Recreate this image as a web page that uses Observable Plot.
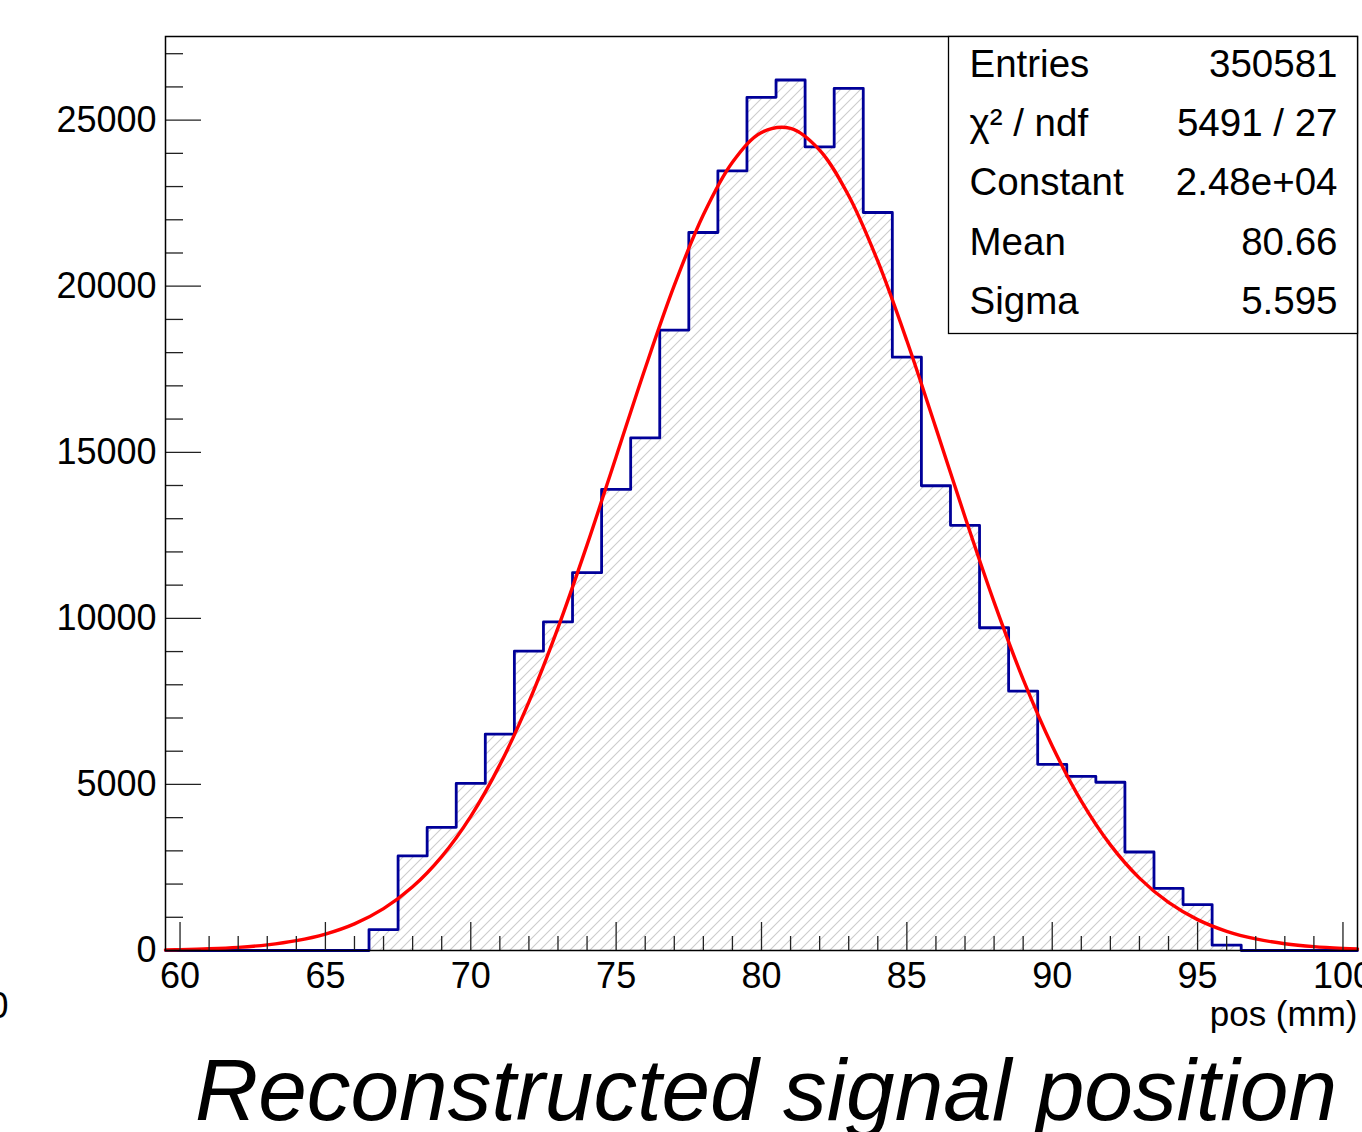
<!DOCTYPE html>
<html><head><meta charset="utf-8">
<script src="https://cdn.jsdelivr.net/npm/d3@7"></script>
<script src="https://cdn.jsdelivr.net/npm/@observablehq/plot@0.6"></script>
<style>
html,body{margin:0;padding:0;background:#fff;overflow:hidden;}
#wrap{position:relative;width:1362px;height:1132px;overflow:hidden;background:#fff;}
#chart{position:absolute;left:0;top:0;}
#title{position:absolute;left:195px;top:1046px;font-family:"Liberation Sans Narrow","Liberation Sans",sans-serif;font-style:italic;font-size:88px;line-height:88px;white-space:nowrap;transform-origin:0 0;color:#000;}
</style></head>
<body><div id="wrap"><div id="chart"></div><div id="title">Reconstructed signal position</div></div>
<script>
// Histogram bins (centres, mm) and counts
const binCenters = [60,61,62,63,64,65,66,67,68,69,70,71,72,73,74,75,76,77,78,79,80,81,82,83,84,85,86,87,88,89,90,91,92,93,94,95,96,97,98,99,100];
const counts = [0,0,0,0,0,0,0,631,2847,3708,5031,6515,9011,9892,11374,13881,15433,18680,21617,23473,25686,26208,24194,25957,22219,17864,13993,12802,9717,7811,5604,5244,5066,2965,1873,1383,160,0,0,0,0];
const binWidth = 1;

const fitX = [59.5,60,61,62,63,64,65,66,67,68,69,70,71,72,73,74,75,76,77,78,79,80,81,82,83,84,85,86,87,88,89,90,91,92,93,94,95,96,97,98,99,100,100.5];
const fitY = [19,27,52,95,170,295,494,801,1259,1917,2827,4040,5588,7485,9714,12211,14868,17531,20024,22149,23731,24628,24754,24099,22723,20753,18357,15728,13052,10488,8164,6158,4497,3180,2179,1446,929,578,348,204,115,63,46];

// Axes
const xDomain = [59.5, 100.5];
const yDomain = [0, 27518];
const yMajorTicks = [0,5000,10000,15000,20000,25000];
const yMinorTicks = [1000,2000,3000,4000,6000,7000,8000,9000,11000,12000,13000,14000,16000,17000,18000,19000,21000,22000,23000,24000,26000,27000];
const xMajorTicks = [60,65,70,75,80,85,90,95,100];
const xMinorTicks = [61,62,63,64,66,67,68,69,71,72,73,74,76,77,78,79,81,82,83,84,86,87,88,89,91,92,93,94,96,97,98,99];
const xLabel = "pos (mm)";

// Stats box
const statsLabels = ["Entries","χ² / ndf","Constant","Mean","Sigma"];
const statsValues = ["350581","5491 / 27","2.48e+04","80.66","5.595"];

const histRows = binCenters.map((c,i)=>({x:c-binWidth/2, y:counts[i]}));
histRows.push({x:binCenters[binCenters.length-1]+binWidth/2, y:counts[counts.length-1]});
const fitRows = fitX.map((x,i)=>({x, y:fitY[i]}));

const W=1362, H=1040, mL=165, mR=5, mT=36, mB=90;
const fw = W-mL-mR, fh = H-mT-mB;
const statsFS = 38.5, rowH = 59.4;

const plot = Plot.plot({
  width:W, height:H,
  marginLeft:mL, marginRight:mR, marginTop:mT, marginBottom:mB,
  style:{fontFamily:'"Liberation Sans", Arial, sans-serif', fontSize:"36px", color:"#000", background:"#fff"},
  x:{domain:xDomain},
  y:{domain:yDomain},
  marks:[
    Plot.areaY(histRows,{x:"x", y:"y", curve:"step-after", fill:"url(#hatch)"}),
    Plot.lineY(histRows,{x:"x", y:"y", curve:"step-after", stroke:"#000099", strokeWidth:2.8}),
    Plot.line(fitRows,{x:"x", y:"y", curve:"catmull-rom", stroke:"#ff0000", strokeWidth:3.4}),
    Plot.tickY(yMajorTicks,{y:d=>d, insetRight:fw-36, stroke:"#222", strokeWidth:1.3}),
    Plot.tickY(yMinorTicks,{y:d=>d, insetRight:fw-18, stroke:"#222", strokeWidth:1.3}),
    Plot.tickX(xMajorTicks,{x:d=>d, insetTop:fh-28, stroke:"#222", strokeWidth:1.3}),
    Plot.tickX(xMinorTicks,{x:d=>d, insetTop:fh-14, stroke:"#222", strokeWidth:1.3}),
    Plot.axisY({ticks:yMajorTicks, tickSize:0, tickPadding:9, tickFormat:d=>String(d), label:null, fontSize:36}),
    Plot.axisX({ticks:xMajorTicks, tickSize:0, tickPadding:12, tickFormat:d=>String(d), label:null, fontSize:36}),
    Plot.frame({stroke:"#000", strokeWidth:1.5}),
    Plot.frame({insetLeft:948-mL, insetBottom:(H-mB)-333, fill:"#fff", stroke:"#000", strokeWidth:1.3}),
    Plot.text([statsLabels.join("\n")],{text:d=>d, frameAnchor:"top-right", textAnchor:"start", lineAnchor:"top", dx:969-(W-mR), dy:-2, lineHeight:rowH/statsFS, fontSize:statsFS}),
    Plot.text([statsValues.join("\n")],{text:d=>d, frameAnchor:"top-right", textAnchor:"end", lineAnchor:"top", dx:1337-(W-mR), dy:-2, lineHeight:rowH/statsFS, fontSize:statsFS}),
    Plot.text([xLabel],{text:d=>d, frameAnchor:"bottom-right", textAnchor:"end", lineAnchor:"bottom", dy:75, fontSize:35}),
    Plot.text(["0"],{text:d=>d, frameAnchor:"bottom-left", textAnchor:"middle", lineAnchor:"middle", dx:-167, dy:56, fontSize:36})
  ]
});

const ns = "http://www.w3.org/2000/svg";
const defs = document.createElementNS(ns,"defs");
defs.innerHTML = '<pattern id="hatch" patternUnits="userSpaceOnUse" width="10" height="10"><path d="M0,10 L10,0 M-1,1 L1,-1 M9,11 L11,9" stroke="#cccccc" stroke-width="1.1"/></pattern>';
plot.insertBefore(defs, plot.firstChild);
document.getElementById("chart").appendChild(plot);

const t = document.getElementById("title");
const w = t.getBoundingClientRect().width;
t.style.transform = `scaleX(${1142/w})`;
</script>
</body></html>
